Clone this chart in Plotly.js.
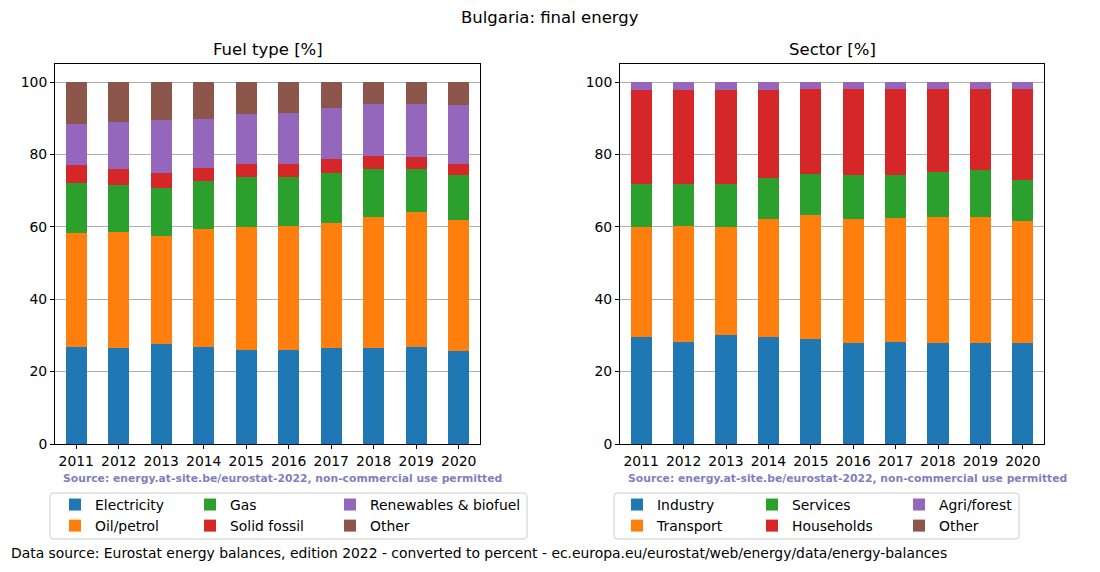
<!DOCTYPE html>
<html>
<head>
<meta charset="utf-8">
<script src="https://cdn.plot.ly/plotly-3.0.1.min.js"></script>
<style>html,body{margin:0;padding:0;background:#fff;}#chart{width:1100px;height:572px;}</style>
</head>
<body>
<div id="chart"></div>
<script>
// ---- data (percent of final energy) ----
const years = ["2011","2012","2013","2014","2015","2016","2017","2018","2019","2020"];

// Fuel type [%]
const fuelNames = ["Electricity","Oil/petrol","Gas","Solid fossil","Renewables & biofuel","Other"];
const electricity = [26.9,26.4,27.5,26.9,26.1,26.1,26.4,26.4,26.7,25.8];
const oilPetrol   = [31.4,32.2,30.0,32.5,33.9,34.2,34.7,36.3,37.4,36.1];
const gas         = [13.7,13.0,13.3,13.3,13.8,13.5,13.8,13.3,11.9,12.5];
const solidFossil = [5.1,4.4,4.1,3.6,3.6,3.6,3.9,3.6,3.3,3.0];
const renewables  = [11.4,13.0,14.7,13.6,13.8,14.1,14.1,14.4,14.7,16.3];
const fuelOther   = [11.5,11.0,10.4,10.1,8.8,8.5,7.1,6.0,6.0,6.3];

// Sector [%]
const sectorNames = ["Industry","Transport","Services","Households","Agri/forest","Other"];
const industry    = [29.7,28.3,30.0,29.7,29.1,28.0,28.3,28.0,27.8,28.0];
const transport   = [30.3,31.9,30.0,32.5,34.2,34.2,34.2,34.7,34.9,33.6];
const services    = [11.9,11.7,11.9,11.3,11.3,12.2,11.9,12.5,13.0,11.4];
const households  = [26.0,26.0,26.0,24.4,23.6,23.8,23.8,23.0,22.5,25.2];
const agriForest  = [2.1,2.1,2.1,2.1,1.8,1.8,1.8,1.8,1.8,1.8];
const sectorOther = [0.0,0.0,0.0,0.0,0.0,0.0,0.0,0.0,0.0,0.0];

const yTicks = [0,20,40,60,80,100];

// ---- styling ----
const colors = ["#1f77b4","#ff7f0e","#2ca02c","#d62728","#9467bd","#8c564b"];
const FONT = "DejaVu Sans, Liberation Sans, sans-serif";
const FS = 13.9;
const W = 1100, H = 572;
const px = v => v / W;
const py = v => 1 - v / H;

const fuelSeries = [electricity, oilPetrol, gas, solidFossil, renewables, fuelOther];
const sectorSeries = [industry, transport, services, households, agriForest, sectorOther];
const leftLegends = ["legend","legend","legend2","legend2","legend3","legend3"];
const rightLegends = ["legend4","legend4","legend5","legend5","legend6","legend6"];

const traces = [];
fuelSeries.forEach((vals, i) => {
  traces.push({type:"bar", x:years, y:vals, name:fuelNames[i], xaxis:"x", yaxis:"y",
    marker:{color:colors[i], line:{width:0}}, width:0.5, legend:leftLegends[i], hoverinfo:"x+y+name"});
});
sectorSeries.forEach((vals, i) => {
  traces.push({type:"bar", x:years, y:vals, name:sectorNames[i], xaxis:"x2", yaxis:"y2",
    marker:{color:colors[i], line:{width:0}}, width:0.5, legend:rightLegends[i], hoverinfo:"x+y+name"});
});

function xax(domain){
  return {domain:domain, type:"category", range:[-0.5,9.5], showline:true, mirror:true,
    linecolor:"#000", linewidth:1, ticks:"outside", ticklen:4, tickcolor:"#000",
    showgrid:false, zeroline:false, tickfont:{family:FONT,size:FS,color:"#000"}, fixedrange:true};
}
function yax(anchor){
  return {domain:[py(444), py(64)], anchor:anchor, range:[0,105], tickvals:yTicks, showline:true, mirror:true,
    linecolor:"#000", linewidth:1, ticks:"outside", ticklen:4, tickcolor:"#000",
    showgrid:true, gridcolor:"#b0b0b0", gridwidth:1, zeroline:false,
    tickfont:{family:FONT,size:FS,color:"#000"}, fixedrange:true};
}
function leg(textX, topY){
  return {x:px(textX-40), xanchor:"left", y:py(topY), yanchor:"top", orientation:"v",
    traceorder:"normal", bgcolor:"rgba(0,0,0,0)", borderwidth:0, font:{family:FONT,size:FS,color:"#000"},
    tracegroupgap:0, itemclick:false, itemdoubleclick:false};
}
function box(x0,y0,x1,y1){
  const r = 3;
  return {type:"path", xref:"paper", yref:"paper", layer:"above",
    path:`M${px(x0+r)},${py(y0)} L${px(x1-r)},${py(y0)} Q${px(x1)},${py(y0)} ${px(x1)},${py(y0+r)} L${px(x1)},${py(y1-r)} Q${px(x1)},${py(y1)} ${px(x1-r)},${py(y1)} L${px(x0+r)},${py(y1)} Q${px(x0)},${py(y1)} ${px(x0)},${py(y1-r)} L${px(x0)},${py(y0+r)} Q${px(x0)},${py(y0)} ${px(x0+r)},${py(y0)} Z`,
    line:{color:"#cccccc", width:1}, fillcolor:"rgba(255,255,255,0.8)"};
}
const srcText = "Source: energy.at-site.be/eurostat-2022, non-commercial use permitted";
function ann(text, x, y, size, opts){
  return Object.assign({text:text, xref:"paper", yref:"paper", x:px(x), y:py(y), showarrow:false,
    xanchor:"center", yanchor:"middle", font:{family:FONT,size:size,color:"#000"}}, opts||{});
}

const layout = {
  width:W, height:H, margin:{l:0,r:0,t:0,b:0}, paper_bgcolor:"#fff", plot_bgcolor:"#fff",
  barmode:"stack", bargap:0.5, showlegend:true,
  xaxis: Object.assign(xax([px(55), px(480)]), {anchor:"y"}),
  yaxis: yax("x"),
  xaxis2: Object.assign(xax([px(620), px(1044)]), {anchor:"y2"}),
  yaxis2: yax("x2"),
  legend: leg(95, 489), legend2: leg(230, 489), legend3: leg(370, 489),
  legend4: leg(657, 489), legend5: leg(792, 489), legend6: leg(939, 489),
  shapes:[box(50,493,527,539), box(614,493,1019,539)],
  annotations:[
    ann("Bulgaria: final energy", 550, 17.5, 16.5),
    ann("Fuel type [%]", 267.5, 50, 16.5),
    ann("Sector [%]", 832, 50, 16.5),
    ann("<b>"+srcText+"</b>", 282, 478, 10.8, {font:{family:FONT,size:10.8,color:"#7f7fbf"}}),
    ann("<b>"+srcText+"</b>", 847, 478, 10.8, {font:{family:FONT,size:10.8,color:"#7f7fbf"}}),
    ann("Data source: Eurostat energy balances, edition 2022 - converted to percent - ec.europa.eu/eurostat/web/energy/data/energy-balances", 9, 553, FS, {xanchor:"left"})
  ]
};

Plotly.newPlot("chart", traces, layout, {staticPlot:true, displayModeBar:false});
</script>
</body>
</html>
